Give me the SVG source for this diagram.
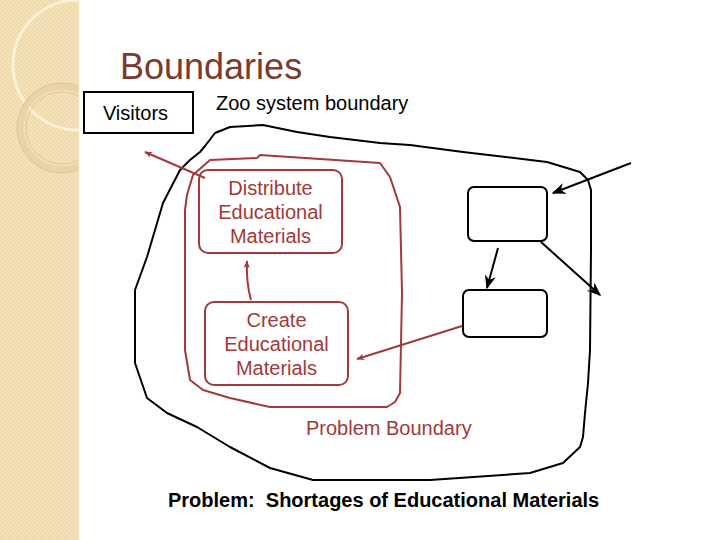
<svg xmlns="http://www.w3.org/2000/svg" width="720" height="540" viewBox="0 0 720 540">
<style>
.lbl{font-family:"Liberation Sans",Arial,sans-serif;font-size:20px;}
.red{fill:#a3393a;}
.rs{fill:none;stroke:#a3393a;stroke-width:2;stroke-linejoin:round;}
.bs{fill:none;stroke:#000;stroke-width:2;stroke-linejoin:round;}
.deco{fill:none;stroke:#fbf1d8;}
</style>
<defs>
<pattern id="tex" width="4" height="4" patternUnits="userSpaceOnUse">
<rect width="4" height="4" fill="#f2e1b9"/>
<rect width="2" height="2" fill="#eedaab"/>
<rect x="2" y="2" width="2" height="2" fill="#eedaab"/>
</pattern>
<clipPath id="strip"><rect x="0" y="0" width="79" height="540"/></clipPath>
<marker id="ar" viewBox="0 0 10 10" refX="9" refY="5" markerWidth="8" markerHeight="8" orient="auto" markerUnits="userSpaceOnUse">
<path d="M0,1 L10,5 L0,9 L3,5 Z" fill="#a3393a"/>
</marker>
<marker id="ab" viewBox="0 0 10 10" refX="9" refY="5" markerWidth="14" markerHeight="14" orient="auto" markerUnits="userSpaceOnUse">
<path d="M0,1 L10,5 L0,9 L3,5 Z" fill="#000"/>
</marker>
</defs>
<rect width="720" height="540" fill="#fff"/>
<g id="strip-bg">
<rect x="0" y="0" width="79" height="540" fill="url(#tex)"/>
<g clip-path="url(#strip)">
<circle cx="78" cy="65" r="65" class="deco" stroke-width="3"/>
<circle cx="62" cy="128" r="42" fill="none" stroke="#e8d3a4" stroke-width="7"/>
<circle cx="62" cy="128" r="36" fill="none" stroke="#dcc48f" stroke-width="0.8"/>
<circle cx="62" cy="128" r="45" fill="none" stroke="#dcc48f" stroke-width="0.8"/>
</g>
<line x1="79" y1="0" x2="79" y2="540" stroke="#f8eed6" stroke-width="1"/>
</g>
<text x="120" y="79" font-family="Liberation Sans,Arial,sans-serif" font-size="36" fill="#7b3a2c">Boundaries</text>
<g id="zoo-boundary">
<path class="bs" stroke-width="2.5" d="M200,152 L205,146 L215,133 L230,127 L263,125 L297,132 L330,137 L380,143 L410,145 L463,152 L547,162 L580,172 L588,180 L591,190 L591,250 L590,350 L588,383 L585,413 L583,437 L580,447 L563,463 L530,473 L430,480 L313,480 L270,468 L230,447 L197,427 L167,413 L147,398 L135,363 L135,290 L147,257 L163,203 L180,170 L190,160 Z"/>
<text x="216" y="110" class="lbl">Zoo system boundary</text>
</g>
<g id="problem-boundary">
<path class="rs" d="M193,175 L210,160 L257,158 L260,155 L380,163 L390,177 L400,207 L402,293 L400,393 L395,402 L387,407 L363,407 L270,407 L230,398 L203,390 L190,380 L185,350 L185,210 L187,195 Z"/>
<text x="306" y="435" class="lbl red">Problem Boundary</text>
</g>
<g id="visitors">
<rect x="84" y="92" width="109" height="41" fill="#fff" stroke="#000" stroke-width="2"/>
<text x="135.5" y="120" class="lbl" text-anchor="middle">Visitors</text>
</g>
<g id="distribute">
<rect x="199" y="170" width="143" height="83" rx="9" class="rs"/>
<text x="270.5" y="195" class="lbl red" text-anchor="middle">Distribute</text>
<text x="270.5" y="219" class="lbl red" text-anchor="middle">Educational</text>
<text x="270.5" y="243" class="lbl red" text-anchor="middle">Materials</text>
</g>
<g id="create">
<rect x="205" y="302" width="143" height="83" rx="9" class="rs"/>
<text x="276.5" y="327" class="lbl red" text-anchor="middle">Create</text>
<text x="276.5" y="351" class="lbl red" text-anchor="middle">Educational</text>
<text x="276.5" y="375" class="lbl red" text-anchor="middle">Materials</text>
</g>
<g id="box1">
<rect x="468" y="187" width="79" height="54" rx="6" class="bs"/>
</g>
<g id="box2">
<rect x="463" y="290" width="84" height="47" rx="6" class="bs"/>
</g>
<g id="connectors">
<path class="rs" d="M205,178 L145,152" marker-end="url(#ar)"/>
<path class="rs" d="M251,300 Q246,282 247,261" marker-end="url(#ar)"/>
<path class="rs" d="M462,326 L357,359" marker-end="url(#ar)"/>
<path class="bs" d="M631,163 L553,193" marker-end="url(#ab)"/>
<path class="bs" d="M541,242 L600,295" marker-end="url(#ab)"/>
<path class="bs" d="M498,248 L487,288" marker-end="url(#ab)"/>
</g>
<text x="168" y="507" font-family="Liberation Sans,Arial,sans-serif" font-size="20" font-weight="bold" xml:space="preserve" style="white-space:pre">Problem:  Shortages of Educational Materials</text>
</svg>
